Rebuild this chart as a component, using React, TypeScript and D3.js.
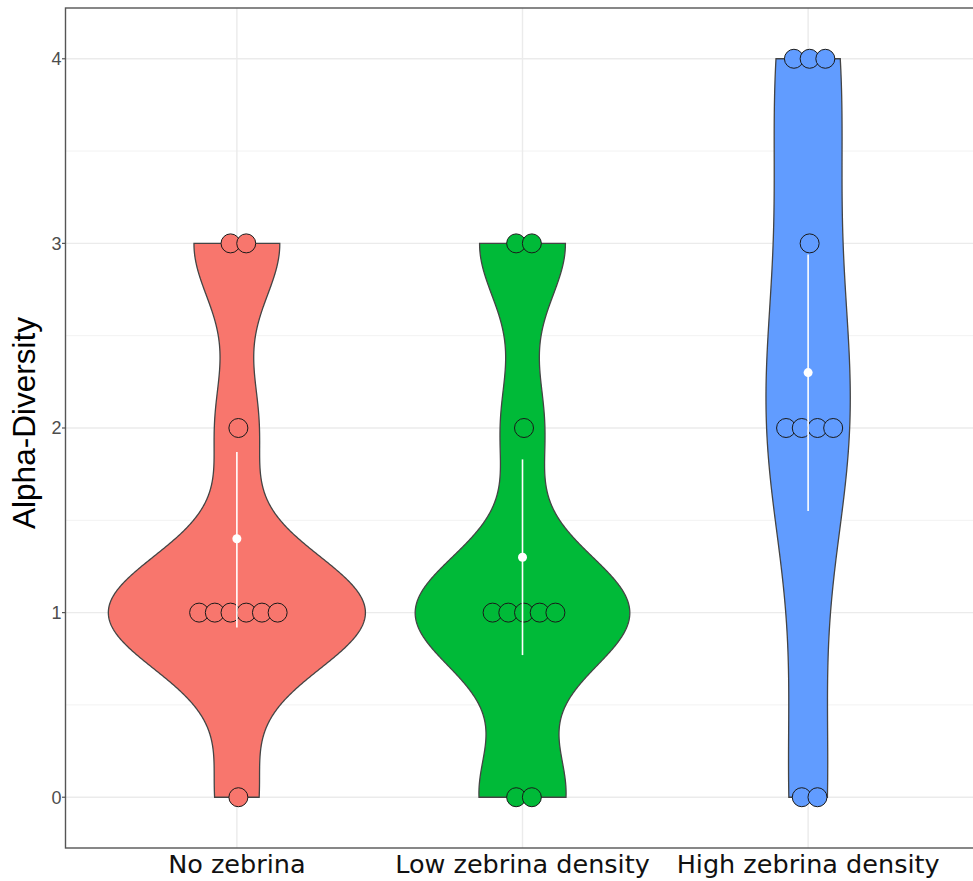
import * as d3 from 'd3';

// groups and raw alpha-diversity values per sample
const categories = ['No zebrina', 'Low zebrina density', 'High zebrina density'];
const noZebrina = [0, 1, 1, 1, 1, 1, 1, 2, 3, 3];
const lowZebrina = [0, 0, 1, 1, 1, 1, 1, 2, 3, 3];
const highZebrina = [0, 0, 2, 2, 2, 2, 3, 4, 4, 4];
const groupValues = [noZebrina, lowZebrina, highZebrina];

// mean with interval (white point + line)
const means = [1.4, 1.3, 2.3];
const ciLow = [0.92, 0.77, 1.55];
const ciHigh = [1.87, 1.83, 2.94];

const colors = ['#F8766D', '#00BA38', '#619CFF'];
const yTicks = [0, 1, 2, 3, 4];
const yMinor = [0.5, 1.5, 2.5, 3.5];

const W = 973;
const H = 881;
const panel = { left: 65.5, right: 979.5, top: 8, bottom: 848 };

// R's bw.nrd0
const nrd0 = (v: number[]) => {
  const s = [...v].sort((a, b) => a - b);
  const sd = d3.deviation(s) as number;
  const iqr = (d3.quantile(s, 0.75) as number) - (d3.quantile(s, 0.25) as number);
  let lo = Math.min(sd, iqr / 1.34);
  if (!(lo > 0)) lo = sd || Math.abs(s[0]) || 1;
  return 0.9 * lo * Math.pow(s.length, -0.2);
};

const kde = (v: number[]) => {
  const bw = nrd0(v);
  const lo = d3.min(v) as number;
  const hi = d3.max(v) as number;
  const n = 512;
  return d3.range(n).map(i => {
    const y = lo + ((hi - lo) * i) / (n - 1);
    const dens = d3.sum(v, xi => Math.exp(-0.5 * ((y - xi) / bw) ** 2)) / (v.length * bw * Math.sqrt(2 * Math.PI));
    return { y, dens };
  });
};

const App = () => {
  const x = d3.scalePoint<string>().domain(categories).range([panel.left, panel.right]).padding(0.6);
  const y = d3.scaleLinear().domain([-0.275, 4.275]).range([panel.bottom, panel.top]);
  const step = x.step();

  const densities = groupValues.map(kde);
  const maxDens = d3.max(densities, d => d3.max(d, p => p.dens)) as number;
  const halfMax = 0.45 * step;

  const r = 9.5;
  const dotStep = 15.7;
  const dotShift = 1.5;

  return (
    <div style={{ position: 'absolute', left: 0, top: 0 }}>
      <svg width={W} height={H} style={{ display: 'block', background: '#fff' }}>
        {/* grid */}
        {yMinor.map(t => (
          <line key={'m' + t} x1={panel.left} x2={panel.right} y1={y(t)} y2={y(t)} stroke="#f2f2f2" strokeWidth={1} />
        ))}
        {yTicks.map(t => (
          <line key={'g' + t} x1={panel.left} x2={panel.right} y1={y(t)} y2={y(t)} stroke="#ebebeb" strokeWidth={1.4} />
        ))}
        {categories.map(c => (
          <line key={'v' + c} x1={x(c)} x2={x(c)} y1={panel.top} y2={panel.bottom} stroke="#ebebeb" strokeWidth={1.4} />
        ))}

        {/* violins */}
        {categories.map((c, i) => {
          const cx = x(c) as number;
          const area = d3
            .area<{ y: number; dens: number }>()
            .y(d => y(d.y))
            .x0(d => cx - (d.dens / maxDens) * halfMax)
            .x1(d => cx + (d.dens / maxDens) * halfMax);
          return (
            <path key={'vi' + c} d={area(densities[i]) as string} fill={colors[i]} stroke="#444" strokeWidth={1.3} />
          );
        })}

        {/* dot stacks */}
        {categories.map((c, i) => {
          const cx = (x(c) as number) + dotShift;
          const counts = d3.rollups(groupValues[i], v => v.length, v => v);
          return counts.flatMap(([val, k]) =>
            d3.range(k).map(j => (
              <circle
                key={c + val + '-' + j}
                cx={cx + (j - (k - 1) / 2) * dotStep}
                cy={y(val)}
                r={r}
                fill={colors[i]}
                stroke="#1a1a1a"
                strokeWidth={1}
              />
            ))
          );
        })}

        {/* mean and interval */}
        {categories.map((c, i) => (
          <g key={'s' + c}>
            <line x1={x(c)} x2={x(c)} y1={y(ciLow[i])} y2={y(ciHigh[i])} stroke="#fff" strokeWidth={1.6} />
            <circle cx={x(c)} cy={y(means[i])} r={4.5} fill="#fff" />
          </g>
        ))}

        {/* panel border */}
        <rect
          x={panel.left}
          y={panel.top}
          width={panel.right - panel.left}
          height={panel.bottom - panel.top}
          fill="none"
          stroke="#555"
          strokeWidth={1.4}
        />

        {/* y axis */}
        {yTicks.map(t => (
          <g key={'yt' + t}>
            <line x1={panel.left - 3.5} x2={panel.left} y1={y(t)} y2={y(t)} stroke="#555" strokeWidth={1.2} />
            <text
              x={panel.left - 4}
              y={y(t)}
              dy="0.36em"
              textAnchor="end"
              fontFamily="'Liberation Sans', Arial, sans-serif"
              fontSize={18}
              fill="#4d4d4d"
            >
              {t}
            </text>
          </g>
        ))}
        <text
          transform="translate(35,423) rotate(-90)"
          textAnchor="middle"
          fontFamily="'Liberation Sans', Arial, sans-serif"
          fontSize={31.5}
          fill="#000"
        >
          Alpha-Diversity
        </text>

        {/* x labels */}
        {categories.map(c => (
          <text
            key={'xl' + c}
            x={x(c)}
            y={873}
            textAnchor="middle"
            fontFamily="'DejaVu Sans', Verdana, sans-serif"
            fontSize={25.5}
            fill="#111"
          >
            {c}
          </text>
        ))}
      </svg>
    </div>
  );
};

export default App;
